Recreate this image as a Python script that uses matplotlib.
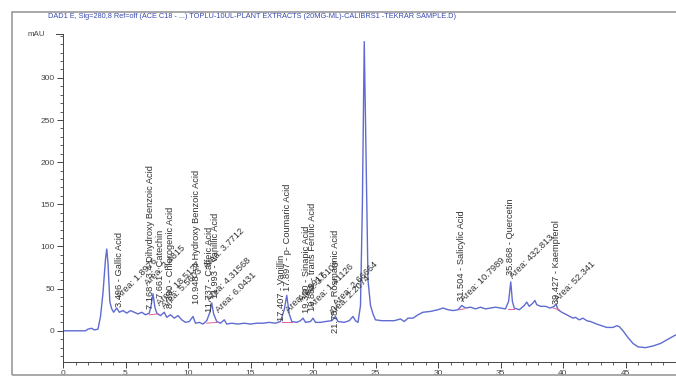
import matplotlib
matplotlib.use("Agg")
import matplotlib.pyplot as plt
from matplotlib.patches import Rectangle
from matplotlib.ticker import MultipleLocator

plt.rcParams['font.family'] = ['Liberation Sans', 'DejaVu Sans']

# Chromatogram trace (retention time in min, signal in mAU)
rt = [0.0, 1.8, 2.0, 2.3, 2.5, 2.8, 3.0, 3.2, 3.4, 3.5, 3.6, 3.75, 3.9, 4.05, 4.3,
      4.5, 4.8, 5.1, 5.4, 5.7, 6.0, 6.3, 6.6, 6.9, 7.05, 7.2, 7.35, 7.5, 7.8, 8.1,
      8.3, 8.6, 8.9, 9.2, 9.5, 9.8, 10.1, 10.4, 10.6, 10.9, 11.2, 11.5, 11.75, 11.9,
      12.05, 12.3, 12.6, 12.9, 13.1, 13.5, 14.0, 14.5, 15.0, 15.5, 16.0, 16.5, 17.0,
      17.4, 17.7, 17.9, 18.1, 18.3, 18.7, 19.0, 19.2, 19.4, 19.8, 20.0, 20.2, 20.6,
      21.0, 21.5, 21.8, 22.0, 22.5, 22.9, 23.2, 23.4, 23.6, 23.8, 23.95, 24.1, 24.25,
      24.4, 24.6, 24.8, 25.0, 25.5, 26.0, 26.5, 27.0, 27.3, 27.6, 28.0, 28.4, 28.8,
      29.4, 30.0, 30.4, 30.8, 31.2, 31.6, 31.9, 32.2, 32.6, 33.0, 33.4, 33.8, 34.2,
      34.6, 35.0, 35.4, 35.65, 35.82, 35.95, 36.1, 36.5, 36.9, 37.1, 37.3, 37.6,
      37.75, 37.9, 38.2, 38.6, 38.96, 39.3, 39.44, 39.6, 39.9, 40.3, 40.8, 41.0,
      41.3, 41.6, 41.9, 42.2, 42.7, 43.1, 43.5, 44.0, 44.3, 44.5, 44.8, 45.2, 45.6,
      46.0, 46.6, 47.2, 47.8, 48.4, 49.0]
mau = [0, 0, 2, 3, 1, 2, 17, 45, 85, 97, 80, 34, 26, 22, 27,
       22, 24, 21, 24, 22, 20, 22, 19, 21, 30, 44, 28, 21, 18, 22,
       16, 19, 15, 18, 13, 10, 11, 17, 9, 10, 8, 12, 22, 33,
       20, 11, 9, 13, 8, 9, 8, 9, 8, 9, 9, 10, 9,
       11, 25, 42, 20, 11, 10, 12, 15, 10, 11, 15, 10, 10,
       11, 12, 17, 11, 10, 12, 17, 12, 10, 30, 150, 343, 200,
       60, 30, 20, 13, 12, 12, 12, 14, 11, 15, 15, 19, 22,
       23, 25, 27, 25, 24, 25, 30, 27, 28, 26, 28, 26, 27,
       28, 27, 26, 35, 58, 35, 27, 25, 30, 34, 29, 33,
       36, 31, 29, 29, 27, 29, 32, 25, 22, 19, 15, 16,
       13, 15, 12, 11, 8, 6, 4, 4, 6, 5, 0, -8, -15,
       -19, -20, -18, -15, -10, -5]

# Integration baselines (pink)
int_start = [6.9, 11.5, 17.5, 31.7, 35.6, 39.2]
int_end = [7.6, 12.3, 18.3, 32.1, 36.1, 39.7]
int_level_start = [19, 9, 10, 25, 26, 27]
int_level_end = [20, 10, 10, 26, 26, 25]

# Peak names (vertical) and area labels (45 degrees)
peak_names = ["3.496 - Gallic Acid", "7.168 - 3,4 Dihydroxy Benzoic Acid",
              "7.661 - Catechin", "8.390 - Chlorogenic Acid",
              "10.948 - 4 Hydroxy Benzoic Acid", "11.737 - Caffeic Acid",
              "11.993 - Vanillic Acid", "17.407 - Vanillin",
              "17.897 - p- Coumaric Acid", "19.320 - Sinapic Acid",
              "19.881 - trans Ferulic Acid", "21.782 - Rosmarinic Acid",
              "31.504 - Salicylic Acid", "35.868 - Quercetin", "39.427 - Kaempferol"]
name_t = [4.5, 7.0, 7.8, 8.6, 10.65, 11.7, 12.2, 17.5, 18.0, 19.5, 19.95,
          21.8, 31.9, 35.8, 39.45]
name_top = [117, 197, 120, 147, 191, 123, 140, 90, 175, 125, 152, 120, 143, 157, 131]

area_labels = ["Area: 1.8976", "Area: 2.4815", "Area: 18.5127", "Area: 5.5603",
               "Area: 3.7712", "Area: 4.31568", "Area: 6.0431",
               "Area: 2.9917", "Area: 3.5108", "Area: 1.41126", "Area: 2.2074",
               "Area: 2.66664",
               "Area: 10.7989", "Area: 432.813", "Area: 52.341"]
area_t = [4.7, 6.9, 7.9, 8.3, 11.6, 11.9, 12.6,
          18.2, 19.2, 20.1, 21.7, 22.0,
          32.2, 36.1, 39.7]
area_y = [36, 52, 28, 24, 72, 32, 20,
          20, 32, 25, 16, 28,
          33, 60, 33]

fig = plt.figure(figsize=(6.76, 3.77), dpi=100)
ax = fig.add_axes([63 / 676, 15 / 377, 613 / 676, 328 / 377])

ax.plot(rt, mau, color='#5f6bd0', lw=1.0)
for s, e, a, b in zip(int_start, int_end, int_level_start, int_level_end):
    ax.plot([s, e], [a, b], color='#e0609a', lw=0.7)

for txt, t, y in zip(peak_names, name_t, name_top):
    ax.text(t, y, txt, rotation=90, ha='center', va='top', fontsize=6.7,
            color='#333333')
for txt, t, y in zip(area_labels, area_t, area_y):
    ax.text(t, y, txt, rotation=45, ha='left', va='bottom', rotation_mode='anchor',
            fontsize=6.7, color='#333333')

ax.set_xlim(0, 49.04)
ax.set_ylim(-37, 352)
ax.xaxis.set_major_locator(MultipleLocator(5))
ax.xaxis.set_minor_locator(MultipleLocator(1))
ax.yaxis.set_major_locator(MultipleLocator(50))
ax.yaxis.set_minor_locator(MultipleLocator(10))
ax.set_yticks(range(0, 301, 50))
ax.tick_params(which='major', length=4, width=0.7, labelsize=6, colors='#444444', pad=2)
ax.tick_params(which='minor', length=2, width=0.6, colors='#444444')
for side in ['top', 'right']:
    ax.spines[side].set_visible(False)
for side in ['left', 'bottom']:
    ax.spines[side].set_color('#444444')
    ax.spines[side].set_linewidth(0.7)
ax.text(-1.4, 352, "mAU", ha='right', va='center', fontsize=5.8, color='#444444')
ax.plot([-0.6, 0], [352, 352], color='#444444', lw=0.7, clip_on=False)

fig.text(252 / 676, 1 - 16 / 377,
         "DAD1 E, Sig=280,8 Ref=off (ACE C18 - ...) TOPLU-10UL-PLANT EXTRACTS (20MG-ML)-CALIBRS1 -TEKRAR SAMPLE.D)",
         ha='center', va='center', fontsize=5.3, color='#3a4bb0')
fig.patches.append(Rectangle((12 / 676, 2 / 377), 1.0, 363 / 377, transform=fig.transFigure,
                             fill=False, edgecolor='#9a9a9a', lw=1.2))

fig.savefig("out.png", dpi=100)
